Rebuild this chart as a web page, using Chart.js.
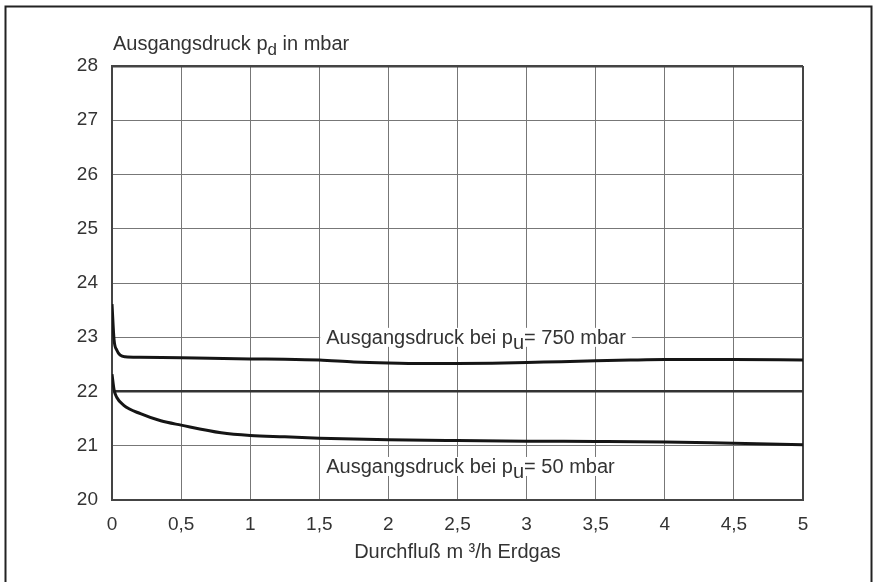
<!DOCTYPE html>
<html>
<head>
<meta charset="utf-8">
<script src="https://cdn.jsdelivr.net/npm/chart.js@4/dist/chart.umd.min.js"></script>
<style>
  html, body { margin: 0; padding: 0; background: #ffffff; }
  #wrap { width: 875px; height: 582px; }
</style>
</head>
<body>
<div id="wrap"><canvas id="c" width="875" height="582"></canvas></div>
<script>
// ---- data ----
const xTicks = [0, 0.5, 1, 1.5, 2, 2.5, 3, 3.5, 4, 4.5, 5];
const yTicks = [20, 21, 22, 23, 24, 25, 26, 27, 28];

// Ausgangsdruck bei pu = 750 mbar
const flow750 = [0, 0.015, 0.035, 0.06, 0.095, 0.2, 0.5, 1.0, 1.25, 1.5, 1.75, 2.0, 2.25, 2.5, 2.75, 3.0, 3.25, 3.5, 3.75, 4.0, 4.5, 5.0];
const press750 = [23.61, 22.95, 22.76, 22.67, 22.64, 22.63, 22.62, 22.6, 22.595, 22.58, 22.545, 22.525, 22.515, 22.515, 22.52, 22.535, 22.55, 22.565, 22.58, 22.59, 22.59, 22.58];

// Ausgangsdruck bei pu = 50 mbar
const flow50 = [0, 0.015, 0.035, 0.083, 0.206, 0.353, 0.5, 0.79, 1.0, 1.25, 1.5, 2.0, 2.5, 3.0, 3.5, 4.0, 4.5, 5.0];
const press50 = [22.32, 22.03, 21.89, 21.75, 21.59, 21.46, 21.38, 21.24, 21.19, 21.165, 21.14, 21.11, 21.095, 21.085, 21.08, 21.07, 21.045, 21.02];

const setPoint = 22;   // reference (nominal) outlet pressure line

const titleParts = ["Ausgangsdruck p", "d", " in mbar"];
const label750 = ["Ausgangsdruck bei p", "u", "= 750 mbar"];
const label50 = ["Ausgangsdruck bei p", "u", "= 50 mbar"];
const xTitle = "Durchfluß m \u00B3/h Erdgas";

// ---- helpers ----
const FONT = '"Liberation Sans", Arial, Helvetica, sans-serif';
const TXT = '#333333';

function toXY(xs, ys) { return xs.map((x, i) => ({ x: x, y: ys[i] })); }

function drawSubText(ctx, parts, x, yBase, size, subSize, subDrop, bg) {
  ctx.save();
  ctx.textBaseline = 'alphabetic';
  ctx.textAlign = 'left';
  ctx.font = size + 'px ' + FONT;
  const w0 = ctx.measureText(parts[0]).width;
  ctx.font = subSize + 'px ' + FONT;
  const w1 = ctx.measureText(parts[1]).width;
  ctx.font = size + 'px ' + FONT;
  const w2 = ctx.measureText(parts[2]).width;
  if (bg) {
    ctx.fillStyle = '#ffffff';
    ctx.fillRect(x - 6, yBase - size * 0.82, w0 + w1 + w2 + 12, size * 0.95);
  }
  ctx.fillStyle = TXT;
  ctx.fillText(parts[0], x, yBase);
  ctx.font = subSize + 'px ' + FONT;
  ctx.fillText(parts[1], x + w0, yBase + subDrop);
  ctx.font = size + 'px ' + FONT;
  ctx.fillText(parts[2], x + w0 + w1, yBase);
  ctx.restore();
}

const decorPlugin = {
  id: 'decor',
  beforeDraw(chart) {
    const ctx = chart.ctx;
    ctx.save();
    ctx.fillStyle = '#ffffff';
    ctx.fillRect(0, 0, chart.width, chart.height);
    ctx.strokeStyle = '#222222';
    ctx.lineWidth = 2;
    ctx.strokeRect(5.5, 6.5, chart.width - 9, chart.height + 20);
    ctx.restore();
  },
  afterDatasetsDraw(chart) {
    const ctx = chart.ctx;
    const xs = chart.scales.x, ys = chart.scales.y;
    // axis title at top-left of plot
    drawSubText(ctx, titleParts, chart.chartArea.left + 1, chart.chartArea.top - 16, 20, 17, 5, false);
    // curve annotations
    drawSubText(ctx, label750, xs.getPixelForValue(1.55), ys.getPixelForValue(23) + 7, 20, 20, 5, true);
    drawSubText(ctx, label50, xs.getPixelForValue(1.55), ys.getPixelForValue(20.62) + 7, 20, 20, 5, true);
  }
};

const edgeColor = '#444444';
const gridColor = '#777777';

new Chart(document.getElementById('c'), {
  type: 'line',
  data: {
    datasets: [
      {
        label: 'pu = 750 mbar',
        data: toXY(flow750, press750),
        borderColor: '#151515',
        borderWidth: 3,
        pointRadius: 0,
        cubicInterpolationMode: 'monotone',
        fill: false
      },
      {
        label: 'pu = 50 mbar',
        data: toXY(flow50, press50),
        borderColor: '#151515',
        borderWidth: 3,
        pointRadius: 0,
        cubicInterpolationMode: 'monotone',
        fill: false
      }
    ]
  },
  plugins: [decorPlugin],
  options: {
    responsive: false,
    animation: false,
    devicePixelRatio: 1,
    layout: { padding: { left: 0, top: 66, right: 72, bottom: 0 } },
    plugins: {
      legend: { display: false },
      tooltip: { enabled: false },
      title: { display: false }
    },
    scales: {
      x: {
        type: 'linear',
        min: 0, max: 5,
        afterFit(s) { s.height = 82; },
        afterBuildTicks(s) { s.ticks = xTicks.map(v => ({ value: v })); },
        border: { display: true, color: edgeColor, width: 2 },
        grid: {
          drawTicks: false,
          color: ctx => (ctx.tick && ctx.tick.value === 5) ? edgeColor : gridColor,
          lineWidth: ctx => (ctx.tick && ctx.tick.value === 5) ? 2 : 1
        },
        ticks: {
          padding: 13,
          color: TXT,
          font: { family: FONT, size: 19 },
          maxRotation: 0,
          autoSkip: false,
          callback: v => String(v).replace('.', ',')
        },
        title: {
          display: true,
          text: xTitle,
          color: TXT,
          font: { family: FONT, size: 20 },
          padding: { top: 0, bottom: 18 }
        }
      },
      y: {
        type: 'linear',
        min: 20, max: 28,
        afterFit(s) { s.width = 112; },
        afterBuildTicks(s) { s.ticks = yTicks.map(v => ({ value: v })); },
        border: { display: true, color: edgeColor, width: 2 },
        grid: {
          drawTicks: false,
          color: ctx => {
            const v = ctx.tick && ctx.tick.value;
            if (v === setPoint) return '#333333';
            if (v === 28) return edgeColor;
            return gridColor;
          },
          lineWidth: ctx => {
            const v = ctx.tick && ctx.tick.value;
            return (v === setPoint || v === 28) ? 2.5 : 1;
          }
        },
        ticks: {
          padding: 14,
          color: TXT,
          font: { family: FONT, size: 19 },
          autoSkip: false
        }
      }
    }
  }
});
</script>
</body>
</html>
